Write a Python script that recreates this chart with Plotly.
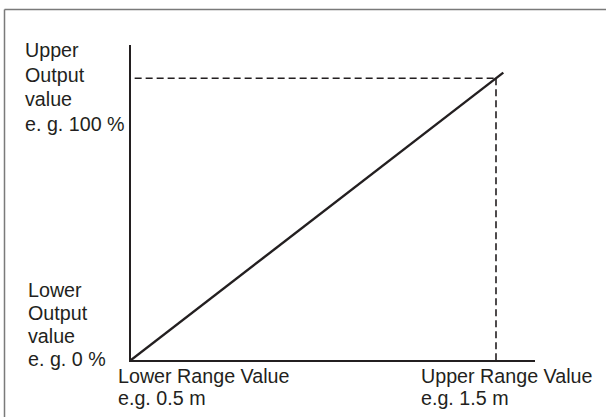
import plotly.graph_objects as go

# ---- data ----
line_x = [0.5, 1.52]          # characteristic line, range value (m)
line_y = [0, 102]             # output value (%)
upper_range = 1.5             # upper range value (m)
upper_output = 100            # upper output value (%)
dash_start_x = 0.51           # start of horizontal dashed guide

upper_label = ["Upper", "Output", "value", "e. g. 100 %"]
lower_label = ["Lower", "Output", "value", "e. g. 0 %"]
lower_range_label = ["Lower Range Value", "e.g. 0.5 m"]
upper_range_label = ["Upper Range Value", "e.g. 1.5 m"]

# ---- layout geometry ----
W, H = 607, 418
L, R, T, B = 131, 72, 45, 58
PW, PH = W - L - R, H - T - B
FS = 19.7
INK = "#231f20"
FONT = "Liberation Sans, Arial, Helvetica, sans-serif"


def pxx(px):
    return (px - L) / PW


def pxy(py):
    return (H - B - py) / PH


fig = go.Figure()

# dashed guides
fig.add_trace(go.Scatter(
    x=[dash_start_x, upper_range], y=[upper_output, upper_output],
    mode="lines", line=dict(color=INK, width=1.6, dash="7px,4px"),
    cliponaxis=False, hoverinfo="skip", showlegend=False))
fig.add_trace(go.Scatter(
    x=[upper_range, upper_range], y=[upper_output, 0],
    mode="lines", line=dict(color=INK, width=1.6, dash="7px,4px"),
    cliponaxis=False, hoverinfo="skip", showlegend=False))
# characteristic line
fig.add_trace(go.Scatter(
    x=line_x, y=line_y, mode="lines",
    line=dict(color=INK, width=2.4),
    cliponaxis=False, hoverinfo="skip", showlegend=False))

annotations = []


def add_lines(lines, left_px, first_baseline, spacing):
    for i, t in enumerate(lines):
        base = first_baseline + i * spacing
        annotations.append(dict(
            text=t, xref="paper", yref="paper",
            x=pxx(left_px), y=pxy(base - 0.35 * FS),
            xanchor="left", yanchor="middle", showarrow=False,
            borderpad=0, font=dict(family=FONT, size=FS, color=INK)))


add_lines(upper_label, 23.5, 57.3, 24.4)
add_lines(lower_label, 26.5, 297.3, 23.0)
add_lines(lower_range_label, 116.8, 383.3, 22.0)
add_lines(upper_range_label, 420.2, 383.3, 22.0)

frame = dict(color="#7a7a7a", width=1.5)
fig.update_layout(
    width=W, height=H,
    margin=dict(l=L, r=R, t=T, b=B, pad=0),
    paper_bgcolor="white", plot_bgcolor="white",
    showlegend=False,
    annotations=annotations,
    shapes=[
        dict(type="line", xref="paper", yref="paper",
             x0=pxx(4.5), y0=pxy(9.5), x1=pxx(W - 1), y1=pxy(9.5), line=frame),
        dict(type="line", xref="paper", yref="paper",
             x0=pxx(4.5), y0=pxy(9.5), x1=pxx(4.5), y1=pxy(H - 1), line=frame),
    ],
    xaxis=dict(range=[0.5, 0.5 + PW / 365.0], showgrid=False, zeroline=False,
               showticklabels=False, ticks="", showline=True,
               linecolor=INK, linewidth=2.2, fixedrange=True),
    yaxis=dict(range=[0, PH / 2.817], showgrid=False, zeroline=False,
               showticklabels=False, ticks="", showline=True,
               linecolor=INK, linewidth=2.2, fixedrange=True),
)

fig.write_html(
    "out.html",
    config={"displayModeBar": False},
    post_script="document.body.style.margin='0';document.body.style.overflow='hidden';",
)
